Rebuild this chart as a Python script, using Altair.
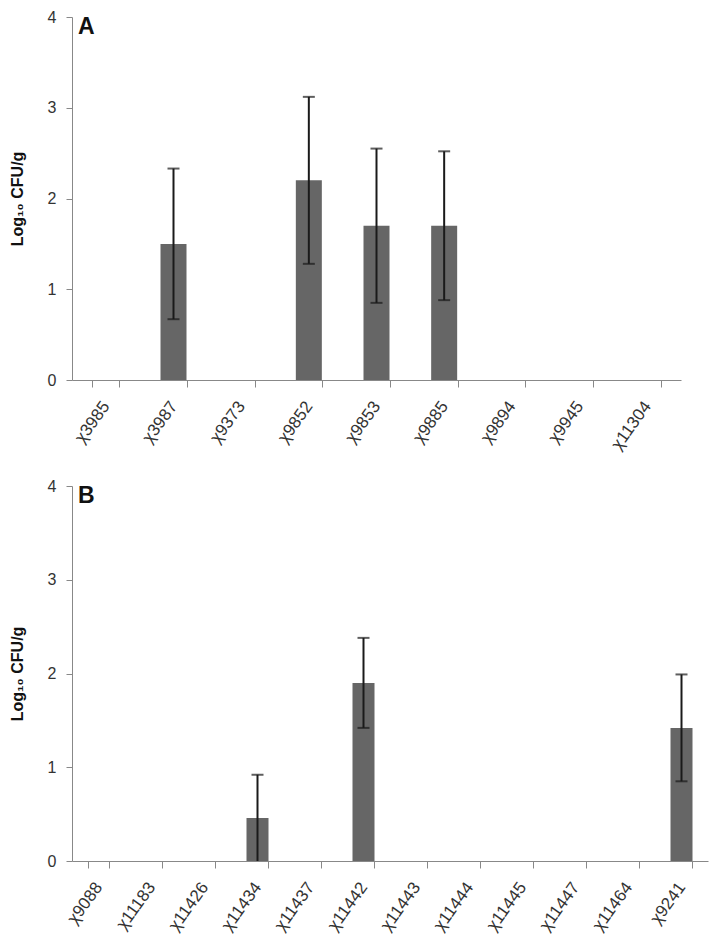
import altair as alt
import pandas as pd

# Panel A
a_strains = ["χ3985", "χ3987", "χ9373", "χ9852", "χ9853", "χ9885", "χ9894", "χ9945", "χ11304"]
a_means = [0, 1.5, 0, 2.2, 1.7, 1.7, 0, 0, 0]
a_errs = [0, 0.83, 0, 0.92, 0.85, 0.82, 0, 0, 0]

# Panel B
b_strains = ["χ9088", "χ11183", "χ11426", "χ11434", "χ11437", "χ11442", "χ11443",
             "χ11444", "χ11445", "χ11447", "χ11464", "χ9241"]
b_means = [0, 0, 0, 0.46, 0, 1.9, 0, 0, 0, 0, 0, 1.42]
b_errs = [0, 0, 0, 0.46, 0, 0.48, 0, 0, 0, 0, 0, 0.57]

FONT = "Liberation Sans"


def panel(strains, means, errs, letter, w, h, bar_size):
    df = pd.DataFrame({"strain": strains, "mean": means, "err": errs})
    df["lo"] = (df["mean"] - df["err"]).clip(lower=0)
    df["hi"] = df["mean"] + df["err"]
    x = alt.X("strain:N", sort=strains, title=None,
              scale=alt.Scale(paddingInner=0.6, paddingOuter=0.3),
              axis=alt.Axis(labelAngle=-54, labelAlign="right", labelBaseline="middle",
                            labelFontSize=17, labelColor="#333", labelPadding=16,
                            tickSize=7, tickColor="#888", domainColor="#888",
                            tickBand="extent", labelFont=FONT))
    y_scale = alt.Scale(domain=[0, 4])
    base = alt.Chart(df)
    bars = base.mark_bar(color="#666666", size=bar_size).encode(
        x=x,
        y=alt.Y("mean:Q", scale=y_scale, title="Log₁₀ CFU/g",
                axis=alt.Axis(values=[0, 1, 2, 3, 4], format="d", grid=False,
                              labelFontSize=16, labelColor="#333", labelFont=FONT,
                              tickSize=6, tickColor="#888", domainColor="#888",
                              labelPadding=10, titleFont=FONT, titleFontSize=16,
                              titleFontWeight="bold", titleColor="#111",
                              titlePadding=22)),
    )
    err = base.transform_filter("datum.err > 0")
    rule = err.mark_rule(color="#1a1a1a", strokeWidth=2).encode(
        x=alt.X("strain:N", sort=strains), y="lo:Q", y2="hi:Q")
    cap_hi = err.mark_tick(color="#1a1a1a", thickness=2, size=12, orient="horizontal").encode(
        x=alt.X("strain:N", sort=strains), y="hi:Q")
    cap_lo = err.transform_filter("datum.lo > 0").mark_tick(
        color="#1a1a1a", thickness=2, size=12, orient="horizontal").encode(
        x=alt.X("strain:N", sort=strains), y="lo:Q")
    lab = alt.Chart(pd.DataFrame({"t": [letter]})).mark_text(
        font=FONT, fontSize=23, fontWeight="bold", color="#111",
        align="left", baseline="top").encode(
        text="t:N", x=alt.value(6), y=alt.value(-1))
    return alt.layer(bars, rule, cap_hi, cap_lo, lab).properties(width=w, height=h)


chart = alt.vconcat(
    panel(a_strains, a_means, a_errs, "A", 609, 363, 26),
    panel(b_strains, b_means, b_errs, "B", 636, 375, 22),
    spacing=24,
).configure(font=FONT).configure_view(stroke="transparent").properties(
    padding={"top": 0, "left": 0, "right": 0, "bottom": 0})

chart.save("out.html", embed_options={"renderer": "svg", "actions": False})
